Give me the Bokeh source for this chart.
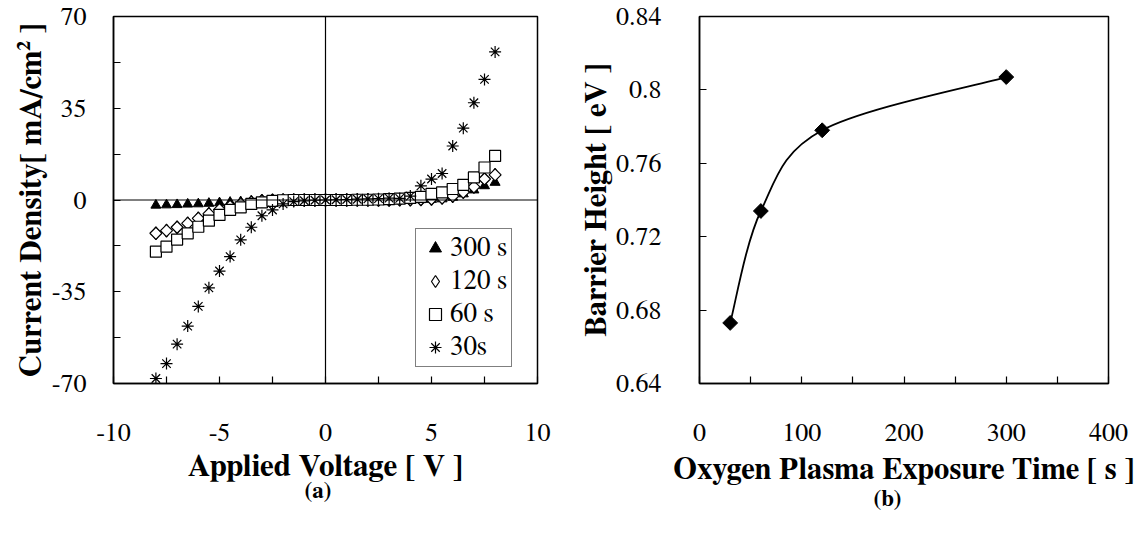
import numpy as np
from bokeh.plotting import figure
from bokeh.models import Range1d, FixedTicker, Span, Legend, LegendItem, Title
from bokeh.layouts import row
from bokeh.embed import file_html
from bokeh.resources import INLINE

# ---------------- data: panel (a) ----------------
voltage = [-8.0, -7.5, -7.0, -6.5, -6.0, -5.5, -5.0, -4.5, -4.0, -3.5, -3.0,
           -2.5, -2.0, -1.5, -1.0, -0.5, 0.0, 0.5, 1.0, 1.5, 2.0, 2.5,
           3.0, 3.5, 4.0, 4.5, 5.0, 5.5, 6.0, 6.5, 7.0, 7.5, 8.0]
j_300s = [-2.0, -1.9, -1.8, -1.6, -1.5, -1.3, -1.1, -0.9, -0.7, -0.5, -0.35,
          -0.2, -0.1, 0.0, 0.0, 0.0, 0.0, 0.0, 0.0, 0.0, 0.0, 0.0,
          0.0, 0.0, 0.05, 0.1, 0.2, 0.4, 1.0, 2.3, 3.8, 5.4, 6.7]
j_120s = [-12.7, -11.7, -10.4, -8.9, -7.0, -5.3, -3.7, -2.4, -1.5, -0.8, -0.3,
          -0.1, 0.0, 0.0, 0.0, 0.0, 0.0, 0.0, 0.0, 0.0, 0.0, 0.0,
          0.0, 0.1, 0.1, 0.2, 0.4, 0.8, 1.5, 3.0, 5.0, 8.0, 9.6]
j_60s = [-19.7, -17.8, -15.1, -12.7, -10.2, -7.9, -5.7, -3.8, -2.8, -1.5, -0.9,
         -0.3, -0.1, 0.0, 0.0, 0.0, 0.0, 0.0, 0.0, 0.1, 0.1, 0.2,
         0.3, 0.5, 0.8, 1.2, 2.3, 2.9, 4.2, 5.8, 8.6, 12.4, 16.8]
j_30s = [-68.1, -62.4, -55.0, -48.1, -40.6, -33.5, -27.1, -21.6, -15.2, -10.4, -6.0,
         -3.8, -1.5, -0.6, -0.3, -0.1, 0.0, 0.1, 0.2, 0.3, 0.4, 0.5,
         0.7, 0.6, 1.5, 5.4, 8.0, 10.1, 20.6, 27.4, 37.1, 46.0, 56.5]
series_labels = ["300 s", "120 s", "60 s", "30s"]

a_xticks = [-10, -5, 0, 5, 10]
a_xminor = [-7.5, -2.5, 2.5, 7.5]
a_xlabels = ["-10", "-5", "0", "5", "10"]
a_yticks = [-70, -35, 0, 35, 70]
a_yminor = [-52.5, -17.5, 17.5, 52.5]
a_ylabels = ["-70", "-35", "0", "35", "70"]

# ---------------- data: panel (b) ----------------
exposure_time = [30, 60, 120, 300]
barrier_height = [0.673, 0.734, 0.778, 0.807]

b_xticks = [0, 100, 200, 300, 400]
b_xminor = [50, 150, 250, 350]
b_xlabels = ["0", "100", "200", "300", "400"]
b_yticks = [0.64, 0.68, 0.72, 0.76, 0.8, 0.84]
b_ylabels = ["0.64", "0.68", "0.72", "0.76", "0.8", "0.84"]

FONT = "FreeSerif, 'DejaVu Serif'"


def style(p, xt, xm, xl, yt, ym, yl, xstand, ystand, xlab_stand, ylab_stand, label_size):
    p.grid.visible = False
    p.outline_line_color = "black"
    p.outline_line_width = 1.5
    p.xaxis.ticker = FixedTicker(ticks=xt, minor_ticks=xm)
    p.yaxis.ticker = FixedTicker(ticks=yt, minor_ticks=ym)
    p.xaxis.major_label_overrides = {t: l for t, l in zip(xt, xl)}
    p.yaxis.major_label_overrides = {t: l for t, l in zip(yt, yl)}
    for ax in p.axis:
        ax.axis_line_color = "black"
        ax.axis_line_width = 1.5
        ax.major_tick_in = 7
        ax.major_tick_out = 0
        ax.minor_tick_in = 7
        ax.minor_tick_out = 0
        ax.major_tick_line_color = "black"
        ax.minor_tick_line_color = "black"
        ax.major_tick_line_width = 1.2
        ax.minor_tick_line_width = 1.2
        ax.major_label_text_font = FONT
        ax.major_label_text_font_size = "26px"
        ax.major_label_text_color = "black"
        ax.axis_label_text_font = FONT
        ax.axis_label_text_font_size = label_size
        ax.axis_label_text_font_style = "bold"
        ax.axis_label_text_color = "black"
    p.xaxis.major_label_standoff = xstand
    p.yaxis.major_label_standoff = ystand
    p.xaxis.axis_label_standoff = xlab_stand
    p.yaxis.axis_label_standoff = ylab_stand


# ---------------- panel (a) ----------------
p1 = figure(width=560, height=530, x_range=Range1d(-10, 10), y_range=Range1d(-70, 70),
            output_backend="svg", toolbar_location=None,
            min_border_left=113, min_border_right=23, min_border_top=15, min_border_bottom=147,
            x_axis_label="Applied Voltage [ V ]",
            y_axis_label="Current Density[ mA/cm\u00b2 ]")
style(p1, a_xticks, a_xminor, a_xlabels, a_yticks, a_yminor, a_ylabels, 40, 27, 7, 2, "31px")

p1.add_layout(Span(location=0, dimension="width", line_color="black", line_width=1))
p1.add_layout(Span(location=0, dimension="height", line_color="black", line_width=1.2))

r300 = p1.scatter(voltage, j_300s, marker="triangle", size=10,
                  fill_color="black", line_color="black", line_width=1)
# diamond used for the legend key; the rotated square drawn on top gives the plot shape
r120_key = p1.scatter(voltage, j_120s, marker="diamond", size=13,
                      fill_color="white", line_color="black", line_width=1.2)
r120 = p1.scatter(voltage, j_120s, marker="square", angle=np.pi / 4, size=8.5,
                  fill_color="white", line_color="black", line_width=1.2)
r60 = p1.scatter(voltage, j_60s, marker="square", size=11,
                 fill_color="white", line_color="black", line_width=1.2)
r30 = p1.scatter(voltage, j_30s, marker="asterisk", size=12,
                 line_color="black", line_width=1.2)

legend = Legend(items=[LegendItem(label=series_labels[0], renderers=[r300]),
                       LegendItem(label=series_labels[1], renderers=[r120_key]),
                       LegendItem(label=series_labels[2], renderers=[r60]),
                       LegendItem(label=series_labels[3], renderers=[r30])],
                location=(302, 16), border_line_color="black", border_line_width=1,
                background_fill_color="white", background_fill_alpha=1,
                label_text_font=FONT, label_text_font_size="27px", label_text_color="black",
                glyph_width=30, glyph_height=30, label_standoff=0,
                label_height=30, spacing=3, padding=4, margin=0)
p1.add_layout(legend)
p1.add_layout(Title(text="(a)", align="left", offset=191, text_font=FONT,
                    text_font_size="23px", text_font_style="bold", text_color="black",
                    standoff=-14), "below")

# ---------------- panel (b) ----------------
p2 = figure(width=579, height=530, x_range=Range1d(0, 400), y_range=Range1d(0.64, 0.84),
            output_backend="svg", toolbar_location=None,
            min_border_left=139, min_border_right=31, min_border_top=16, min_border_bottom=146,
            x_axis_label="Oxygen Plasma Exposure Time [ s ]",
            y_axis_label="Barrier Height [ eV ]")
style(p2, b_xticks, b_xminor, b_xlabels, b_yticks, [], b_ylabels, 40, 38, 11, 1, "30.5px")
p2.yaxis.axis_label_text_font_size = "31px"

# smoothed curve (Catmull-Rom style Bezier segments in screen proportions)
sx = 409 / 400.0
sy = 368 / 0.20
P = np.column_stack([np.array(exposure_time) * sx, np.array(barrier_height) * sy])
n = len(P)
x0, y0, x1, y1, cx0, cy0, cx1, cy1 = [], [], [], [], [], [], [], []
for i in range(n - 1):
    i0 = max(i - 1, 0)
    i3 = min(i + 2, n - 1)
    c1 = P[i] + (P[i + 1] - P[i0]) / 6.0
    c2 = P[i + 1] - (P[i3] - P[i]) / 6.0
    x0.append(P[i][0] / sx); y0.append(P[i][1] / sy)
    x1.append(P[i + 1][0] / sx); y1.append(P[i + 1][1] / sy)
    cx0.append(c1[0] / sx); cy0.append(c1[1] / sy)
    cx1.append(c2[0] / sx); cy1.append(c2[1] / sy)
p2.bezier(x0=x0, y0=y0, x1=x1, y1=y1, cx0=cx0, cy0=cy0, cx1=cx1, cy1=cy1,
          line_color="black", line_width=1.8)
p2.scatter(exposure_time, barrier_height, marker="square", angle=np.pi / 4, size=10.5,
           fill_color="black", line_color="black")
p2.add_layout(Title(text="(b)", align="left", offset=174, text_font=FONT,
                    text_font_size="23px", text_font_style="bold", text_color="black",
                    standoff=-3), "below")

layout = row(p1, p2)
open("out.html", "w").write(file_html(layout, INLINE))
